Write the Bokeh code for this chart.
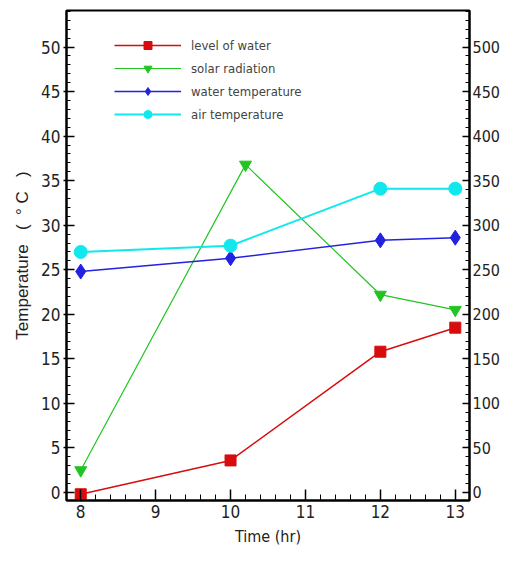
from bokeh.plotting import figure
from bokeh.models import Range1d, LinearAxis, Legend, LegendItem, FixedTicker
from bokeh.embed import file_html
from bokeh.resources import INLINE

# Data
time_hr = [8, 10, 12, 13]
solar_time_hr = [8, 10.2, 12, 13]
level_of_water = [-0.2, 3.6, 15.8, 18.5]
solar_radiation = [25, 368, 222, 205]
water_temperature = [24.8, 26.3, 28.3, 28.6]
air_temperature = [27.0, 27.7, 34.1, 34.1]
left_ticks = [0, 5, 10, 15, 20, 25, 30, 35, 40, 45, 50]
right_ticks = [0, 50, 100, 150, 200, 250, 300, 350, 400, 450, 500]
x_ticks = [8, 9, 10, 11, 12, 13]

FONT = "DejaVu Sans Condensed"
NB = "\u00a0"

p = figure(width=502, height=548, output_backend="svg", toolbar_location=None,
           x_range=Range1d(7.81, 13.19), y_range=Range1d(-0.9, 54.1),
           min_border_left=66, min_border_right=20, min_border_top=10, min_border_bottom=44)
p.extra_y_ranges = {"rad": Range1d(-9, 541)}
p.xgrid.visible = False
p.ygrid.visible = False
p.outline_line_color = "black"
p.outline_line_width = 2
p.background_fill_color = "white"
p.border_fill_color = "white"

red, green, blue, cyan = "#d80c0c", "#22c422", "#2222e0", "#10e8ee"

r1 = p.line(time_hr, level_of_water, color=red, line_width=1.5)
m1 = p.scatter(time_hr, level_of_water, marker="square", size=11, color=red)
r2 = p.line(solar_time_hr, solar_radiation, color=green, line_width=1.2, y_range_name="rad")
m2 = p.scatter(solar_time_hr, solar_radiation, marker="inverted_triangle", size=12, color=green, y_range_name="rad")
r3 = p.line(time_hr, water_temperature, color=blue, line_width=1.5)
m3 = p.scatter(time_hr, water_temperature, marker="diamond", size=15, color=blue)
r4 = p.line(time_hr, air_temperature, color=cyan, line_width=2)
m4 = p.scatter(time_hr, air_temperature, marker="circle", size=13, color=cyan)

legend = Legend(items=[
    LegendItem(label="level of water", renderers=[r1, m1]),
    LegendItem(label="solar radiation", renderers=[r2, m2]),
    LegendItem(label="water temperature", renderers=[r3, m3]),
    LegendItem(label="air temperature", renderers=[r4, m4]),
], location=(48, 376), border_line_color=None, background_fill_alpha=0,
    glyph_width=67, glyph_height=20, label_height=20, spacing=3, padding=0,
    label_standoff=10, label_text_font=FONT, label_text_font_size="13px", margin=0)
p.add_layout(legend, "center")

def style_axis(ax):
    ax.axis_line_width = 2
    ax.axis_line_color = "black"
    ax.major_tick_in = 8
    ax.major_tick_out = 0
    ax.minor_tick_in = 4
    ax.minor_tick_out = 0
    ax.major_tick_line_width = 1.5
    ax.major_label_text_font = FONT
    ax.major_label_text_font_size = "17px"
    ax.major_label_text_color = "#222222"
    ax.axis_label_text_font_style = "normal"
    ax.axis_label_text_color = "#222222"

xa = p.xaxis[0]
xa.ticker = FixedTicker(ticks=x_ticks, minor_ticks=[8 + i * 0.2 for i in range(26)])
xa.axis_label = "Time (hr)"
style_axis(xa)
xa.major_tick_in = 11
xa.minor_tick_in = 6
xa.axis_label_text_font = FONT
xa.axis_label_text_font_size = "16px"
xa.major_label_standoff = 4
xa.axis_label_standoff = 6

ya = p.yaxis[0]
ya.ticker = FixedTicker(ticks=left_ticks, minor_ticks=list(range(0, 55)))
ya.axis_label = "Temperature" + NB * 3 + "(" + NB * 2 + "°" + NB + "C" + NB * 3 + ")"
style_axis(ya)
ya.major_tick_out = 3
ya.axis_label_text_font = "Liberation Sans"
ya.axis_label_text_font_size = "17px"
ya.major_label_standoff = 3
ya.axis_label_standoff = 6

ra = LinearAxis(y_range_name="rad")
ra.ticker = FixedTicker(ticks=right_ticks, minor_ticks=list(range(0, 541, 10)))
style_axis(ra)
ra.major_label_text_font_size = "16px"
ra.major_tick_in = 7
ra.major_label_standoff = 3
p.add_layout(ra, "right")

open("out.html", "w").write(file_html(p, INLINE))
